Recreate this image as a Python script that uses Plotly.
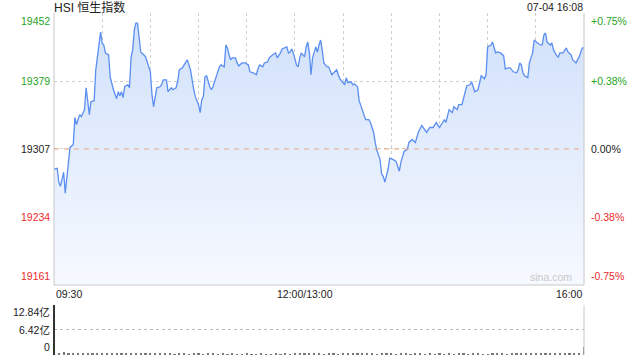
import plotly.graph_objects as go

# ---- data ----
minutes = [0, 2, 3, 4, 5, 6, 7, 9, 10, 12, 13, 14, 16, 17, 19, 20, 21, 22, 23, 25, 26, 28, 29, 30, 31, 32, 34, 35, 37, 39,
           40, 41, 42, 43, 44, 46, 47, 48, 49, 50, 51, 52, 54, 56, 57, 59, 60, 61, 62, 64, 66, 67, 68, 70, 71, 73, 74, 76, 77, 78,
           80, 81, 83, 84, 85, 87, 88, 90, 91, 92, 93, 94, 95, 97, 98, 99, 101, 103, 104, 106, 107, 108, 109, 110, 111, 113, 114, 115, 117, 119,
           121, 122, 124, 126, 127, 128, 130, 131, 133, 134, 136, 138, 139, 141, 142, 144, 145, 146, 147, 148, 149, 151, 152, 153, 154, 156, 157, 158, 159, 160,
           161, 163, 164, 165, 166, 167, 168, 170, 171, 173, 174, 176, 177, 178, 180, 181, 182, 183, 185, 186, 187, 189, 190, 192, 193, 194, 196, 197, 198, 199,
           200, 201, 203, 204, 205, 206, 208, 209, 211, 213, 215, 216, 218, 220, 221, 223, 225, 227, 229, 231, 232, 234, 236, 238, 240, 242, 243, 244, 246, 248,
           249, 251, 252, 254, 256, 257, 259, 260, 261, 262, 264, 265, 266, 268, 269, 270, 272, 273, 275, 276, 278, 280, 281, 283, 284, 286, 288, 289, 290, 291,
           292, 293, 295, 296, 297, 298, 299, 301, 303, 304, 305, 306, 307, 309, 310, 311, 313, 314, 315, 317, 319, 320, 322, 323, 325, 327, 328, 329, 330]
prices = [19284.8, 19285.9, 19271.0, 19266.7, 19274.1, 19281.6, 19259.3, 19292.2, 19308.2, 19311.4, 19340.1, 19332.7, 19343.3, 19341.2, 19348.6,
          19372.0, 19356.1, 19343.3, 19357.1, 19358.2, 19391.2, 19417.8, 19431.6, 19419.9, 19417.8, 19409.3, 19407.1, 19383.7, 19369.9, 19360.3,
          19367.8, 19363.5, 19367.8, 19361.4, 19373.1, 19375.2, 19372.0, 19405.0, 19412.5, 19433.7, 19441.2, 19441.2, 19410.3, 19407.1, 19405.0,
          19394.4, 19389.1, 19364.6, 19351.8, 19372.0, 19373.1, 19375.2, 19380.5, 19380.5, 19367.8, 19372.0, 19369.9, 19372.0, 19378.4, 19391.2,
          19393.3, 19396.5, 19401.8, 19396.5, 19391.2, 19369.9, 19362.5, 19353.9, 19345.4, 19359.3, 19362.5, 19383.7, 19384.8, 19373.1, 19369.9,
          19373.1, 19382.7, 19394.4, 19396.5, 19394.4, 19417.8, 19414.6, 19407.1, 19401.8, 19404.0, 19404.0, 19398.6, 19395.4, 19398.6, 19398.6,
          19396.5, 19389.1, 19388.0, 19385.9, 19392.3, 19396.5, 19394.4, 19398.6, 19399.7, 19404.0, 19407.1, 19409.3, 19404.0, 19409.3, 19413.5,
          19414.6, 19415.7, 19409.3, 19410.3, 19413.5, 19409.3, 19396.5, 19394.4, 19404.0, 19409.3, 19405.0, 19415.7, 19421.0, 19409.3, 19385.9,
          19404.0, 19415.7, 19410.3, 19417.8, 19423.1, 19412.5, 19398.6, 19394.4, 19394.4, 19385.9, 19388.0, 19391.2, 19385.9, 19381.6, 19377.4,
          19375.2, 19382.7, 19377.4, 19378.4, 19375.2, 19376.3, 19373.1, 19358.2, 19347.5, 19343.3, 19338.0, 19338.0, 19334.8, 19329.5, 19324.2,
          19313.5, 19305.0, 19295.4, 19279.5, 19277.3, 19271.0, 19284.8, 19296.5, 19295.4, 19293.3, 19282.7, 19292.2, 19303.9, 19306.1, 19313.5,
          19316.7, 19313.5, 19325.2, 19331.6, 19327.3, 19324.2, 19329.5, 19329.5, 19334.8, 19329.5, 19334.8, 19338.0, 19334.8, 19348.6, 19345.4,
          19351.8, 19348.6, 19353.9, 19353.9, 19367.8, 19374.2, 19375.2, 19378.4, 19373.1, 19367.8, 19369.9, 19378.4, 19384.8, 19381.6, 19385.9,
          19415.7, 19417.8, 19421.0, 19409.3, 19410.3, 19409.3, 19406.1, 19392.3, 19393.3, 19393.3, 19389.1, 19388.0, 19391.2, 19398.6, 19396.5,
          19388.0, 19384.8, 19382.7, 19398.6, 19405.0, 19409.3, 19423.1, 19419.9, 19417.8, 19417.8, 19428.4, 19430.6, 19421.0, 19417.8, 19419.9,
          19412.5, 19406.1, 19405.0, 19409.3, 19409.3, 19414.6, 19410.3, 19407.1, 19401.8, 19398.6, 19405.0, 19410.3, 19414.6, 19414.6]

prev_close = 19306.5
y_min, y_max = 19161, 19452
price_labels = [19452, 19379, 19307, 19234, 19161]
pct_labels = ["+0.75%", "+0.38%", "0.00%", "-0.38%", "-0.75%"]
label_colors = ["#1fa51f", "#1fa51f", "#222222", "#ee2a2a", "#ee2a2a"]

time_labels = ["09:30", "12:00/13:00", "16:00"]
time_label_pos = [0, 150, 330]
grid_minutes = [30, 60, 90, 120, 150, 180, 210, 240, 270, 300]
total_minutes = 330

vol_minutes = list(range(0, 331, 3))
volumes = [0.8, 0.6, 0.7, 0.5, 0.6, 0.5, 0.4, 0.5, 0.4, 0.4,
           0.5, 0.4, 0.3, 0.4, 0.3, 0.4, 0.3, 0.3, 0.4, 0.3,
           0.3, 0.3, 0.4, 0.3, 0.3, 0.2, 0.3, 0.3, 0.2, 0.3,
           0.3, 0.2, 0.3, 0.3, 0.2, 0.3, 0.2, 0.3, 0.2, 0.2,
           0.3, 0.2, 0.2, 0.3, 0.2, 0.2, 0.3, 0.2, 0.3, 0.2,
           0.4, 0.3, 0.3, 0.4, 0.3, 0.3, 0.2, 0.3, 0.3, 0.2,
           0.3, 0.3, 0.4, 0.3, 0.4, 0.3, 0.3, 0.2, 0.3, 0.3,
           0.3, 0.2, 0.3, 0.3, 0.2, 0.3, 0.3, 0.2, 0.3, 0.2,
           0.3, 0.2, 0.3, 0.2, 0.3, 0.3, 0.2, 0.3, 0.3, 0.2,
           0.2, 0.3, 0.3, 0.3, 0.2, 0.3, 0.3, 0.3, 0.3, 0.3,
           0.3, 0.3, 0.3, 0.4, 0.3, 0.4, 0.4, 0.3, 0.4, 0.5, 2.1]
vol_max = 12.84
vol_label_vals = [12.84, 6.42, 0]
vol_labels = ["12.84亿", "6.42亿", "0"]

title_text = "HSI 恒生指数"
stamp_text = "07-04 16:08"

FONT = "Liberation Sans, Arial, Noto Sans CJK SC, sans-serif"
FS = 10.5

fig = go.Figure()

# baseline for gradient fill
fig.add_trace(go.Scatter(x=[0, total_minutes], y=[y_min, y_min], mode="lines",
                         line=dict(width=0, color="rgba(0,0,0,0)"), hoverinfo="skip",
                         showlegend=False, xaxis="x", yaxis="y"))
fig.add_trace(go.Scatter(
    x=minutes, y=prices, mode="lines", line=dict(color="#5a8ef0", width=1.3),
    fill="tonexty",
    fillgradient=dict(type="vertical",
                      colorscale=[[0, "rgb(246,249,255)"], [1, "rgb(208,224,250)"]],
                      start=y_min, stop=y_max),
    showlegend=False, xaxis="x", yaxis="y"))

fig.add_trace(go.Bar(x=vol_minutes, y=volumes, marker=dict(color="#777777", line=dict(width=0)),
                     width=1.4, showlegend=False, xaxis="x2", yaxis="y2"))

fig.update_layout(
    width=640, height=360,
    margin=dict(l=54, r=56, t=13, b=5),
    paper_bgcolor="white", plot_bgcolor="white",
    font=dict(family=FONT, size=FS, color="#222"),
    bargap=0,
    xaxis=dict(domain=[0, 1], range=[0, total_minutes], tickvals=grid_minutes,
               showticklabels=False, showgrid=True, gridcolor="#cfcfcf", griddash="dot",
               gridwidth=1, zeroline=False, showline=False, anchor="y", fixedrange=True),
    yaxis=dict(domain=[0.2047, 1], range=[y_min, y_max],
               tickvals=[price_labels[1], price_labels[2], price_labels[3]],
               showticklabels=False, showgrid=True, gridcolor="#cfcfcf", griddash="dot",
               zeroline=False, showline=False, anchor="x"),
    xaxis2=dict(domain=[0, 1], range=[0, total_minutes], showticklabels=False,
                showgrid=False, zeroline=False, showline=False, anchor="y2"),
    yaxis2=dict(domain=[0, 0.1462], range=[0, vol_max], tickvals=[6.42, 12.84],
                showticklabels=False, showgrid=True, gridcolor="#bbbbbb", griddash="dot",
                zeroline=False, showline=False, anchor="x2"),
)

shapes = []
# price frame: left, bottom, right
shapes.append(dict(type="line", xref="x domain", yref="y domain", x0=0, x1=0, y0=0, y1=1,
                   line=dict(color="#c8c8c8", width=1)))
shapes.append(dict(type="line", xref="x domain", yref="y domain", x0=0, x1=1, y0=0, y1=0,
                   line=dict(color="#c8c8c8", width=1)))
shapes.append(dict(type="line", xref="x domain", yref="y domain", x0=1, x1=1, y0=0, y1=1,
                   line=dict(color="#c8c8c8", width=1)))
# previous close dashed line
shapes.append(dict(type="line", xref="x domain", yref="y", x0=0, x1=1, y0=prev_close, y1=prev_close,
                   line=dict(color="#e8a582", width=1, dash="5px,5px")))
# volume frame
shapes.append(dict(type="line", xref="x2 domain", yref="y2 domain", x0=0, x1=0, y0=0, y1=1,
                   line=dict(color="#333333", width=2)))
shapes.append(dict(type="line", xref="x2 domain", yref="y2 domain", x0=1, x1=1, y0=0, y1=1,
                   line=dict(color="#c8c8c8", width=1)))
fig.update_layout(shapes=shapes)

ann = []
ann.append(dict(text=title_text, xref="x domain", yref="paper", x=0, y=1, xanchor="left",
                yanchor="middle", yshift=5.5, xshift=-1, borderpad=0, showarrow=False,
                font=dict(size=12, color="#222", family="Liberation Sans, Noto Sans CJK SC")))
ann.append(dict(text=stamp_text, xref="x domain", yref="paper", x=1, y=1, xanchor="right",
                yanchor="middle", yshift=6, borderpad=0, showarrow=False,
                font=dict(size=FS, color="#222")))
for i, (v, p, c) in enumerate(zip(price_labels, pct_labels, label_colors)):
    ya = "top" if i == 0 else ("bottom" if i == len(price_labels) - 1 else "middle")
    ys = 0 if ya == "middle" else (0 if ya == "top" else 1)
    ann.append(dict(text=str(v), xref="x domain", yref="y", x=0, y=v, xanchor="right",
                    yanchor=ya, xshift=-2, yshift=ys, showarrow=False, font=dict(size=FS, color=c)))
    ann.append(dict(text=p, xref="x domain", yref="y", x=1, y=v, xanchor="left",
                    yanchor=ya, xshift=5, yshift=ys, showarrow=False, font=dict(size=FS, color=c)))
for t, m in zip(time_labels, time_label_pos):
    xa = "left" if m == 0 else ("right" if m == total_minutes else "center")
    xs = 10 if xa == "center" else 0
    ann.append(dict(text=t, xref="x", yref="y domain", x=m, y=0, xanchor=xa, yanchor="top",
                    xshift=xs, yshift=-1, showarrow=False, font=dict(size=FS, color="#222")))
for v, t in zip(vol_label_vals, vol_labels):
    ya = "top" if v == vol_max else ("bottom" if v == 0 else "middle")
    ann.append(dict(text=t, xref="x2 domain", yref="y2", x=0, y=v, xanchor="right", yanchor=ya,
                    xshift=-2, yshift=(1 if ya == "top" else 0), showarrow=False,
                    font=dict(size=FS, color="#222", family="Liberation Sans, Noto Sans CJK SC")))
ann.append(dict(text="sina.com", xref="x domain", yref="y domain", x=1, y=0, xanchor="right",
                yanchor="bottom", xshift=-10, yshift=0, showarrow=False,
                font=dict(size=10.5, color="#c8c8c8")))
fig.update_layout(annotations=ann)

fig.write_html("out.html")
